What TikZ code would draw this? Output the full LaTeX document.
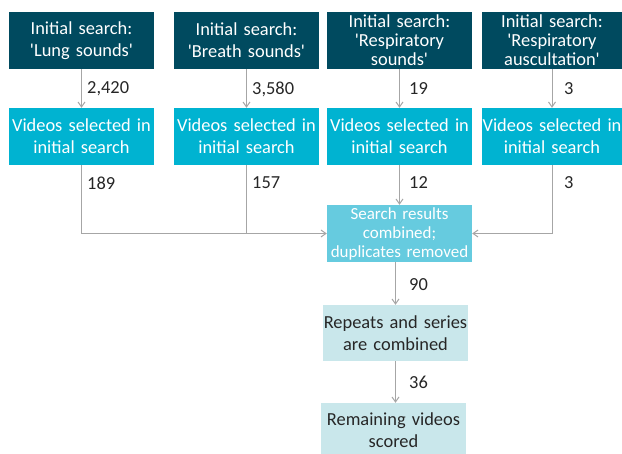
\documentclass[tikz,border=0pt]{standalone}
\usepackage{fontspec}
\setmainfont{Carlito}
\newfontfamily\carl{Carlito}
\usetikzlibrary{arrows.meta}
\newcommand{\sqt}{{\carl\symbol{39}}}
\definecolor{darkteal}{HTML}{004A5F}
\definecolor{cyanbox}{HTML}{00B3D1}
\definecolor{midcyan}{HTML}{66CBDF}
\definecolor{paleteal}{HTML}{C9E7EB}
\definecolor{linegray}{HTML}{A6A6A6}
\definecolor{darktext}{HTML}{262626}
\tikzset{
  x=1pt,y=-1pt,
  box/.style={inner sep=0pt, align=center, minimum height=57pt, text width=145pt, font=\carl\fontsize{18.4}{22}\selectfont},
  topbox/.style={box, fill=darkteal, text=white},
  topboxtight/.style={topbox, font=\carl\fontsize{18.4}{19}\selectfont},
  vidbox/.style={box, fill=cyanbox, text=white},
  combbox/.style={box, fill=midcyan, text=white, font=\carl\fontsize{17}{19}\selectfont},
  palebox/.style={box, fill=paleteal, text=darktext},
  conn/.style={draw=linegray, line width=1pt, -{Straight Barb[length=5pt,width=7pt]}},
  plain/.style={draw=linegray, line width=1pt},
  num/.style={anchor=west, inner sep=0pt, text=darktext, font=\carl\fontsize{18.4}{22}\selectfont}
}
\begin{document}
\begin{tikzpicture}
\useasboundingbox (0,0) rectangle (622,454);
\node[topbox] (s1) at (81.5,40.5) {Initial search:\\\sqt Lung sounds\sqt};
\node[topbox] (s2) at (246.5,40.5) {Initial search:\\\sqt Breath sounds\sqt};
\node[topboxtight] (s3) at (399.5,40.5) {Initial search:\\\sqt Respiratory\\sounds\sqt};
\node[topboxtight, text width=140pt] (s4) at (552,40.5) {Initial search:\\\sqt Respiratory\\auscultation\sqt};
\node[vidbox] (v1) at (81.5,136.5) {Videos selected in\\initial search};
\node[vidbox] (v2) at (246.5,136.5) {Videos selected in\\initial search};
\node[vidbox] (v3) at (399.5,136.5) {Videos selected in\\initial search};
\node[vidbox, text width=140pt] (v4) at (552,136.5) {Videos selected in\\initial search};
\node[combbox] (c) at (399.5,233.5) {Search results\\combined;\\duplicates removed};
\node[palebox, minimum height=56pt] (r) at (395.5,333) {Repeats and series\\are combined};
\node[palebox, minimum height=54pt] (f) at (393.5,430) {Remaining videos\\scored};
\coordinate (j2) at (v2.south |- c.west);
\draw[conn] (s1.south -| v1.south) -- (v1.north);
\draw[conn] (s2.south) -- (v2.north);
\draw[conn] (s3.south) -- (v3.north);
\draw[conn] (s4.south) -- (v4.north);
\draw[conn] (v1.south) |- (c.west);
\draw[plain] (v2.south) -- (j2);
\draw[conn] (v3.south) -- (c.north);
\draw[conn] (v4.south) |- (c.east);
\draw[conn] (c.south -| r.north) -- (r.north);
\draw[conn] (r.south) -- (r.south |- f.north);
\node[num] (n1) at (87,89) {2,420};
\node[num] (n2) at (252,89) {3,580};
\node[num] (n3) at (409,89) {19};
\node[num] (n4) at (564,89) {3};
\node[num] (n5) at (87,183) {189};
\node[num] (n6) at (252,183) {157};
\node[num] (n7) at (409,183) {12};
\node[num] (n8) at (564,183) {3};
\node[num] (n9) at (409,285) {90};
\node[num] (n10) at (409,382) {36};
\end{tikzpicture}
\end{document}
